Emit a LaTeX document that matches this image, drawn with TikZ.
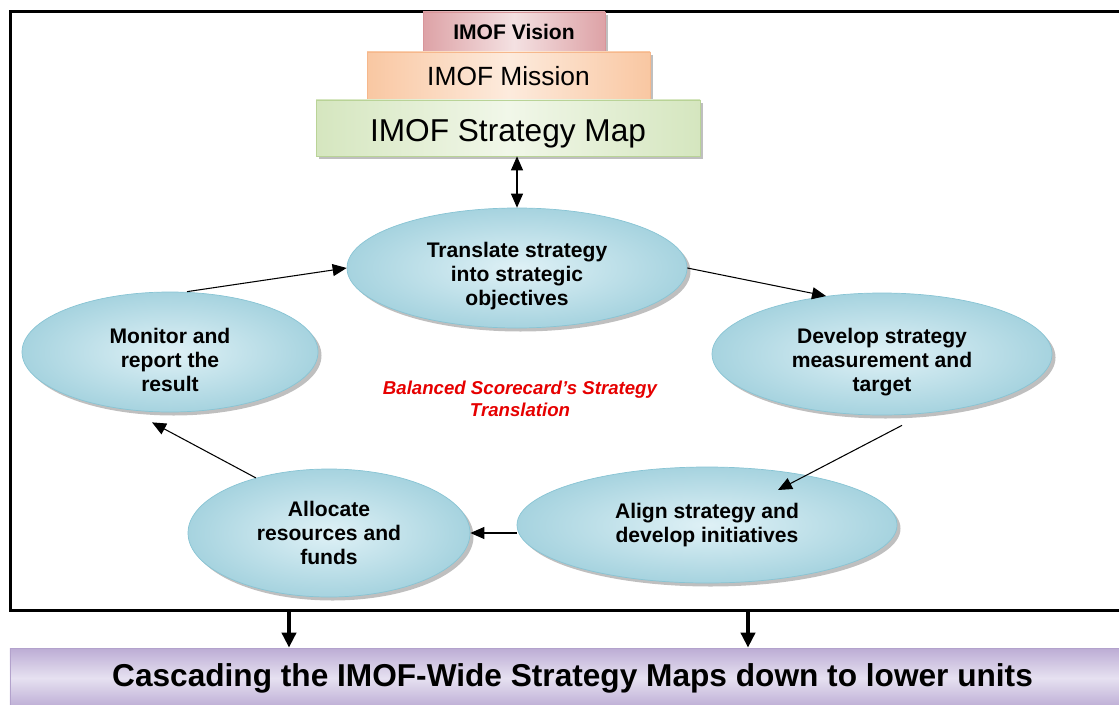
\documentclass[tikz,border=0pt]{standalone}
\usepackage{fontspec}
\setmainfont{Liberation Sans}
\usetikzlibrary{arrows.meta,shadows,shapes.geometric}

\definecolor{ovalfill}{HTML}{DFF1F6}
\definecolor{ovaledge}{HTML}{A6D3DF}
\definecolor{ovalline}{HTML}{88C4D4}
\definecolor{visionline}{HTML}{D8959A}
\definecolor{visionside}{HTML}{DDA2A6}
\definecolor{visionmid}{HTML}{F4E1E2}
\definecolor{missionline}{HTML}{F6B88C}
\definecolor{missionside}{HTML}{F9C7A2}
\definecolor{missionmid}{HTML}{FDEBDD}
\definecolor{mapline}{HTML}{B9D397}
\definecolor{mapside}{HTML}{D5E6BF}
\definecolor{mapmid}{HTML}{F1F7E9}
\definecolor{cascadeline}{HTML}{B3A2CC}
\definecolor{cascadeside}{HTML}{BCACD4}
\definecolor{cascademid}{HTML}{E6E1F1}
\definecolor{scorered}{HTML}{E60000}

\tikzset{
  oval/.style={ellipse, draw=ovalline, inner color=ovalfill, outer color=ovaledge,
    align=center, inner sep=0pt, font=\bfseries\fontsize{12}{13.7}\selectfont,
    drop shadow={shadow xshift=0.7mm, shadow yshift=-0.7mm, fill=black!50, opacity=0.5}},
  lowtext/.style={label={[align=center, font=\bfseries\fontsize{12}{13.7}\selectfont, yshift=-1.6mm]center:#1}},
  tier/.style={rectangle, inner sep=0pt,
    drop shadow={shadow xshift=0.6mm, shadow yshift=-0.6mm, fill=black!50, opacity=0.5}},
  flow/.style={-{Triangle[length=2.8mm,width=2.4mm]}, semithick},
  downflow/.style={-{Triangle[length=3mm,width=2.8mm]}, line width=0.8mm}
}

\begin{document}
\begin{tikzpicture}[x=0.2mm, y=-0.2mm]
	\useasboundingbox (0,0) rectangle (1119,704);
	\clip (0,0) rectangle (1119,704);
	\draw[line width=0.6mm] (10,12) rectangle (1140,610);

	\node[tier, draw=visionline, left color=visionside, right color=visionside, middle color=visionmid,
		minimum width=36.4mm, minimum height=8mm, font=\bfseries\fontsize{12}{14}\selectfont] (vision) at (514,32) {IMOF Vision};
	\node[tier, draw=missionline, left color=missionside, right color=missionside, middle color=missionmid,
		minimum width=56.6mm, minimum height=9.6mm, font=\fontsize{15}{17}\selectfont] (mission) at (508.5,76) {IMOF Mission};
	\node[tier, draw=mapline, left color=mapside, right color=mapside, middle color=mapmid,
		minimum width=76.8mm, minimum height=11.2mm, text height=5.6mm, text depth=0mm,
		font=\fontsize{18}{20}\selectfont] (map) at (508,128) {IMOF Strategy Map};

	\node[oval, minimum width=68mm, minimum height=24mm,
		lowtext={Translate strategy\\into strategic\\objectives}] (translate) at (517,268) {};
	\node[oval, minimum width=68mm, minimum height=24.4mm,
		lowtext={Develop strategy\\measurement and\\target}] (develop) at (882,354) {};
	\node[oval, minimum width=76mm, minimum height=23.2mm] (align) at (707,525) {Align strategy and\\develop initiatives};
	\node[oval, minimum width=56.4mm, minimum height=25.6mm] (allocate) at (329,533) {Allocate\\resources and\\funds};
	\node[oval, minimum width=59.2mm, minimum height=24mm,
		lowtext={Monitor and\\report the\\result}] (monitor) at (170,352) {};

	\node[text=scorered, align=center, font=\bfseries\itshape\fontsize{10.6}{12.5}\selectfont] (bsc-label) at (520,399) {Balanced Scorecard’s Strategy\\Translation};

	\node[tier, draw=cascadeline, top color=cascadeside, bottom color=cascadeside, middle color=cascademid,
		minimum width=225mm, minimum height=12mm, font=\bfseries\fontsize{18}{20}\selectfont] (cascade) at (572.5,678) {Cascading the IMOF-Wide Strategy Maps down to lower units};

	\coordinate (drop-left) at (289,610);
	\coordinate (drop-right) at (748,610);

	\draw[{Triangle[length=2.8mm,width=2.4mm]}-{Triangle[length=2.8mm,width=2.4mm]}, semithick] (translate.north |- map.south) -- (translate.north);
	\draw[flow] (translate.east) -- (develop.134);
	\draw[flow] ([xshift=4mm,yshift=-2mm]develop.south) -- ([xshift=14.2mm,yshift=7mm]align.center);
	\draw[flow] (align.west |- allocate.east) -- (allocate.east);
	\draw[flow] (allocate.143) -- ([xshift=-3.6mm,yshift=-2mm]monitor.south);
	\draw[flow] ([xshift=3.4mm]monitor.north) -- (translate.west);
	\draw[downflow] (drop-left) -- (drop-left |- cascade.north);
	\draw[downflow] (drop-right) -- (drop-right |- cascade.north);
\end{tikzpicture}
\end{document}
